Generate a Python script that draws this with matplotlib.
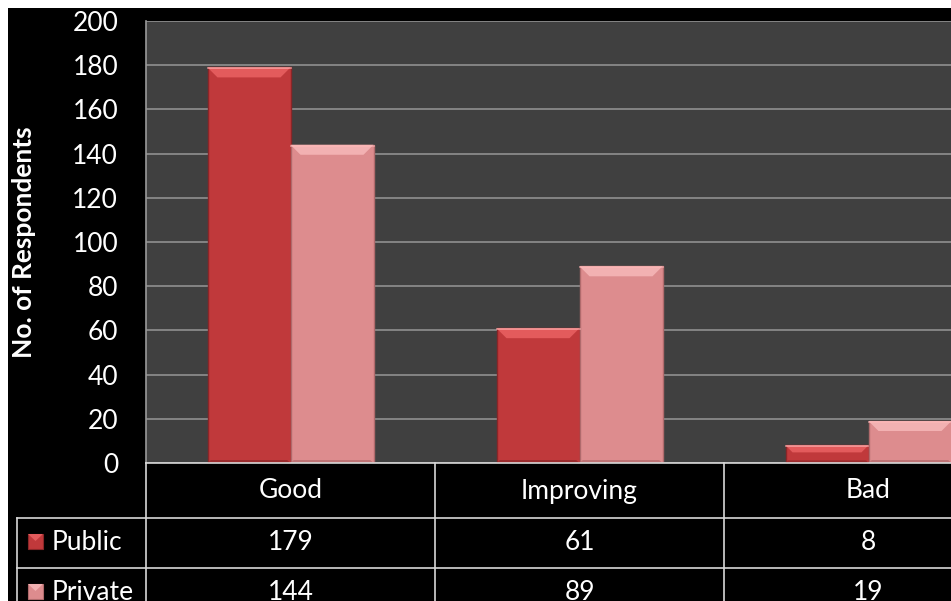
import matplotlib
matplotlib.use("Agg")
import matplotlib.pyplot as plt
from matplotlib.patches import Rectangle, Polygon
from matplotlib.lines import Line2D

# Data
categories = ["Good", "Improving", "Bad"]
series = ["Public", "Private"]
public = [179, 61, 8]
private = [144, 89, 19]
y_ticks = [0, 20, 40, 60, 80, 100, 120, 140, 160, 180, 200]

# colours: (face, top bevel, bottom bevel, edge)
styles = {
    "Public": ("#c0393b", "#e35b5c", "#9c2c2e", "#8a2628"),
    "Private": ("#dd8c8e", "#f2b1b2", "#bf7375", "#b06a6c"),
}

plt.rcParams["font.family"] = ["Lato", "DejaVu Sans"]

W, H = 951, 601
fig = plt.figure(figsize=(W / 100, H / 100), dpi=100, facecolor="white")
fig.patches.append(Rectangle((8 / W, 0), 1, (H - 8) / H, transform=fig.transFigure,
                             facecolor="black", edgecolor="none", zorder=-10))

# plot area: one category = 289 px, 200 units = 442 px
cat_px = 289
ax = fig.add_axes([146 / W, (H - 463) / H, 3 * cat_px / W, 442 / H])
ax.set_facecolor("#404040")
ax.set_xlim(-0.5, 2.5)
ax.set_ylim(0, 200)
ax.set_yticks(y_ticks)
ax.set_yticklabels([str(t) for t in y_ticks], color="white", fontsize=19)
ax.tick_params(axis="y", length=0, pad=20)
ax.set_xticks([])
ax.yaxis.grid(True, color="#8a8a8a", linewidth=1.3, zorder=0)
ax.set_axisbelow(True)
for s in ["top", "right", "bottom"]:
    ax.spines[s].set_visible(False)
ax.spines["left"].set_color("#9a9a9a")
ax.spines["left"].set_linewidth(1.2)

bar_w = 83 / cat_px
bevel_x = 10 / cat_px
px_per_unit = 442 / 200


def draw_bars(values, offset, name):
    face, top, bottom, edge = styles[name]
    for i, v in enumerate(values):
        x0 = i + offset - bar_w / 2
        x1 = x0 + bar_w
        ax.add_patch(Rectangle((x0, 0), bar_w, v, facecolor=face, edgecolor=edge,
                               linewidth=1.0, zorder=3))
        h = min(10 / px_per_unit, v * 0.4)
        d = min(bevel_x, h * px_per_unit / cat_px)
        ax.add_patch(Polygon([(x0, v), (x1, v), (x1 - d, v - h), (x0 + d, v - h)],
                             closed=True, facecolor=top, edgecolor="none", zorder=4))
        ax.add_line(Line2D([x0, x1], [v - 0.4, v - 0.4], color="#ffb8b8", lw=1.2,
                           alpha=0.7, zorder=5))
        hb = min(3 / px_per_unit, v * 0.15)
        ax.add_patch(Polygon([(x0, 0), (x1, 0), (x1 - d / 3, hb), (x0 + d / 3, hb)],
                             closed=True, facecolor=bottom, edgecolor="none", zorder=4))


draw_bars(public, -bar_w / 2, "Public")
draw_bars(private, bar_w / 2, "Private")

fig.text(24 / W, (H - 242) / H, "No. of Respondents", rotation=90, ha="center",
         va="center", color="white", fontsize=19, fontweight="bold")

# data table below the plot, y in pixels
left_units = -0.5 - (146 - 17) / cat_px
tab = fig.add_axes([17 / W, (H - 618) / H, (3 * cat_px + 129) / W, 155 / H])
tab.set_xlim(left_units, 2.5)
tab.set_ylim(155, 0)
tab.axis("off")
tab.patch.set_visible(False)

line_kw = dict(color="#d8d8d8", lw=1.2, clip_on=False)
rows = [0, 55, 105, 155]
tab.plot([-0.5, 2.5], [0, 0], **line_kw)
for y in rows[1:3]:
    tab.plot([left_units, 2.5], [y, y], **line_kw)
for i in range(len(categories)):
    tab.plot([i - 0.5, i - 0.5], [0, 155], **line_kw)
tab.plot([left_units, left_units], [55, 155], **line_kw)

for i, c in enumerate(categories):
    tab.text(i, 28, c, ha="center", va="center", color="white", fontsize=19, clip_on=False)
for r, (name, vals) in enumerate(zip(series, [public, private])):
    yc = (rows[r + 1] + rows[r + 2]) / 2
    for i, v in enumerate(vals):
        tab.text(i, yc, str(v), ha="center", va="center", color="white", fontsize=19,
                 clip_on=False)
    face, top, bottom, edge = styles[name]
    mx = left_units + 11 / cat_px
    mw = 15 / cat_px
    tab.add_patch(Rectangle((mx, yc - 9), mw, 15, facecolor=face, edgecolor=edge,
                            lw=0.8, clip_on=False))
    tab.add_patch(Polygon([(mx, yc - 9), (mx + mw, yc - 9), (mx + mw / 2, yc - 2)],
                          closed=True, facecolor=top, edgecolor="none", clip_on=False))
    tab.text(left_units + 35 / cat_px, yc, name, ha="left", va="center", color="white",
             fontsize=19, clip_on=False)

fig.savefig("out.png", dpi=100, facecolor=fig.get_facecolor())
